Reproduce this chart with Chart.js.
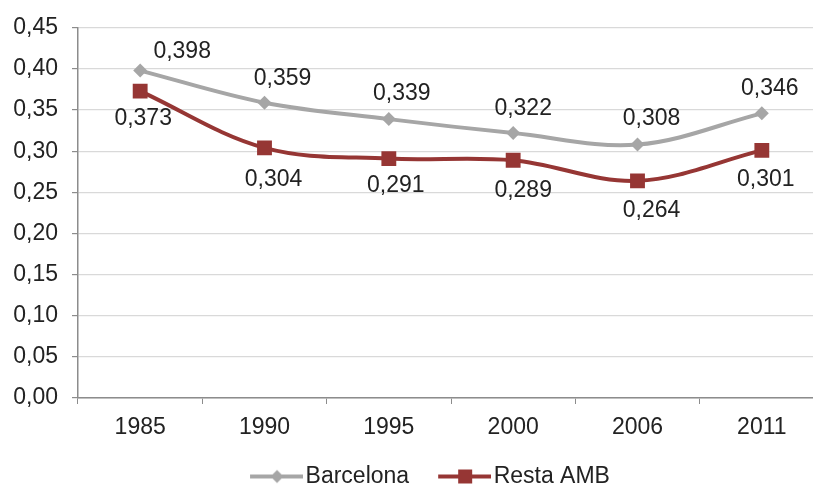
<!DOCTYPE html>
<html>
<head>
<meta charset="utf-8">
<script src="https://cdn.jsdelivr.net/npm/chart.js@4/dist/chart.umd.min.js"></script>
<style>
  html, body { margin: 0; padding: 0; background: #fff; overflow: hidden; }
  #wrap { width: 852px; height: 498px; }
</style>
</head>
<body>
<div id="wrap"><canvas id="chart" width="852" height="498"></canvas></div>
<script>
'use strict';

var years = ['1985', '1990', '1995', '2000', '2006', '2011'];
var barcelona = [0.398, 0.359, 0.339, 0.322, 0.308, 0.346];
var restaAmb = [0.373, 0.304, 0.291, 0.289, 0.264, 0.301];
var seriesNames = ['Barcelona', 'Resta AMB'];
var yTicks = [0, 0.05, 0.10, 0.15, 0.20, 0.25, 0.30, 0.35, 0.40, 0.45];

var greyColor = '#a6a6a6';
var redColor = '#963634';
var textColor = '#222222';
var fontName = '"Liberation Sans", Arial, Helvetica, sans-serif';

// comma decimals like the original
function fmt(v, digits){
  return v.toFixed(digits).replace('.', ',');
}

// little picture for the legend: a line with the marker in the middle
function legendIcon(color, shape){
  var c = document.createElement('canvas');
  c.width = 70;
  c.height = 22;
  var g = c.getContext('2d');
  g.strokeStyle = color;
  g.lineWidth = 4;
  g.beginPath();
  g.moveTo(17, 11);
  g.lineTo(70, 11);
  g.stroke();
  g.fillStyle = color;
  if(shape === 'diamond'){
    g.beginPath();
    g.moveTo(44, 4.5);
    g.lineTo(50.5, 11);
    g.lineTo(44, 17.5);
    g.lineTo(37.5, 11);
    g.closePath();
    g.fill();
  }else{
    g.fillRect(37, 4, 14, 14);
  }
  return c;
}

// value labels, moved a bit like in the original
var valueLabels = {
  id: 'valueLabels',
  afterDatasetsDraw: function(chart){
    var ctx = chart.ctx;
    ctx.save();
    ctx.font = '23px ' + fontName;
    ctx.fillStyle = textColor;
    ctx.textAlign = 'center';
    ctx.textBaseline = 'middle';
    chart.data.datasets.forEach(function(ds, d){
      var meta = chart.getDatasetMeta(d);
      meta.data.forEach(function(pt, i){
        ctx.fillText(fmt(ds.data[i], 3), pt.x + ds.labelDx[i], pt.y + ds.labelDy[i]);
      });
    });
    ctx.restore();
  }
};

var ctx = document.getElementById('chart').getContext('2d');
var chart = new Chart(ctx, {
  type: 'line',
  data: {
    labels: years,
    datasets: [{
      label: seriesNames[0],
      data: barcelona,
      borderColor: greyColor,
      backgroundColor: greyColor,
      borderWidth: 4,
      tension: 0.35,
      pointStyle: 'rectRot',
      pointRadius: 7,
      pointBorderWidth: 0,
      legendImage: legendIcon(greyColor, 'diamond'),
      labelDx: [42, 18, 13, 10, 14, 8],
      labelDy: [-19, -24, -25, -24, -26, -25]
    },
    {
      label: seriesNames[1],
      data: restaAmb,
      borderColor: redColor,
      backgroundColor: redColor,
      borderWidth: 4,
      tension: 0.35,
      pointStyle: 'rect',
      pointRadius: 10.5,
      pointBorderWidth: 0,
      legendImage: legendIcon(redColor, 'square'),
      labelDx: [3, 9, 7, 10, 14, 4],
      labelDy: [28, 32, 27, 30, 30, 29]
    }]
  },
  options: {
    responsive: false,
    animation: false,
    layout: { padding: { top: 22, left: 0, right: 0, bottom: 0 } },
    plugins: {
      tooltip: { enabled: false },
      legend: {
        position: 'bottom',
        labels: {
          usePointStyle: true,
          pointStyleWidth: 52,
          padding: 21,
          color: textColor,
          font: { family: fontName, size: 23 },
          generateLabels: function(chart){
            return chart.data.datasets.map(function(ds, i){
              return {
                text: ds.label,
                pointStyle: ds.legendImage,
                fillStyle: ds.borderColor,
                strokeStyle: ds.borderColor,
                lineWidth: 0,
                fontColor: textColor,
                datasetIndex: i
              };
            });
          }
        }
      }
    },
    scales: {
      x: {
        offset: true,
        grid: {
          offset: true,
          drawOnChartArea: false,
          drawTicks: true,
          tickLength: 6,
          tickColor: '#8c8c8c'
        },
        border: { color: '#8c8c8c', width: 1.5 },
        ticks: {
          color: textColor,
          padding: 10,
          maxRotation: 0,
          font: { family: fontName, size: 23 }
        },
        afterFit: function(scale){ scale.height = 46; }
      },
      y: {
        min: 0,
        max: 0.45,
        afterBuildTicks: function(scale){
          scale.ticks = yTicks.map(function(v){ return { value: v }; });
        },
        grid: {
          color: '#d9d9d9',
          lineWidth: 1.2,
          tickLength: 6,
          tickColor: '#8c8c8c'
        },
        border: { color: '#8c8c8c', width: 1.5 },
        ticks: {
          color: textColor,
          padding: 14,
          font: { family: fontName, size: 23 },
          callback: function(v){ return fmt(v, 2); }
        },
        afterFit: function(scale){ scale.width = 78; }
      },
      // empty strip on the right so the plot runs past the picture edge
      yRight: {
        position: 'right',
        display: true,
        grid: { display: false },
        border: { display: false },
        ticks: { display: false },
        afterFit: function(scale){ scale.width = 28; }
      }
    }
  },
  plugins: [valueLabels]
});
</script>
</body>
</html>
